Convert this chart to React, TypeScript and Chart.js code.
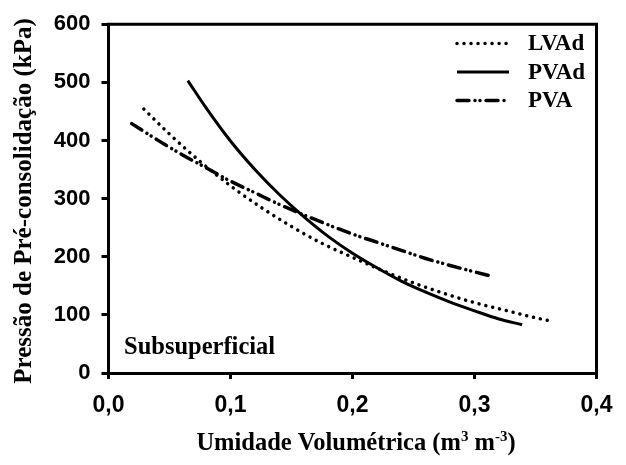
import React, { useEffect, useRef } from 'react';
import { Chart, registerables } from 'chart.js';

Chart.register(...registerables);

// ---- data ----
const seriesNames = ['LVAd', 'PVAd', 'PVA'];

const lvadX = [0.029, 0.05, 0.075, 0.1, 0.125, 0.15, 0.175, 0.2, 0.225, 0.25, 0.275, 0.3, 0.325, 0.35, 0.361];
const lvadY = [454, 411, 364, 322, 285, 252, 223, 199, 176, 155, 137, 121, 108, 95, 90];

const pvadX = [0.065, 0.08, 0.1, 0.12, 0.14, 0.16, 0.18, 0.2, 0.22, 0.24, 0.26, 0.28, 0.3, 0.32, 0.339];
const pvadY = [503, 456, 399, 350, 307, 269, 235, 206, 181, 158, 139, 122, 107, 93, 83];

const pvaX = [0.019, 0.04, 0.06, 0.08, 0.1, 0.12, 0.14, 0.16, 0.18, 0.2, 0.22, 0.24, 0.26, 0.28, 0.3, 0.315];
const pvaY = [429, 401, 376, 353, 330, 310, 290, 272, 255, 239, 225, 211, 197, 185, 174, 166];

const xTickValues = [0, 0.1, 0.2, 0.3, 0.4];
const yTickValues = [0, 100, 200, 300, 400, 500, 600];

const xTitleParts = [
  { t: 'Umidade Volumétrica (m', sup: false },
  { t: '3', sup: true },
  { t: ' m', sup: false },
  { t: '-3', sup: true },
  { t: ')', sup: false },
];
const yTitle = 'Pressão de Pré-consolidação (kPa)';
const panelLabel = 'Subsuperficial';

const SERIF = '"Liberation Serif", "Times New Roman", serif';
const SANS = '"Liberation Sans", Arial, sans-serif';

const toPoints = (xs: number[], ys: number[]) => xs.map((x, i) => ({ x, y: ys[i] }));

const decorPlugin = {
  id: 'decor',
  afterDraw(chart: any) {
    const { ctx, chartArea: a } = chart;
    ctx.save();
    // top and right frame
    ctx.strokeStyle = '#000';
    ctx.lineWidth = 3;
    ctx.setLineDash([]);
    ctx.lineCap = 'square';
    ctx.beginPath();
    ctx.moveTo(a.left, a.top);
    ctx.lineTo(a.right, a.top);
    ctx.lineTo(a.right, a.bottom);
    ctx.stroke();

    // legend
    chart.data.datasets.forEach((ds: any, i: number) => {
      const y = 43.5 + i * 28.5;
      ctx.setLineDash(ds.borderDash || []);
      ctx.lineCap = ds.borderCapStyle || 'butt';
      ctx.lineWidth = ds.borderWidth;
      ctx.strokeStyle = '#000';
      ctx.beginPath();
      ctx.moveTo(457, y);
      ctx.lineTo(509, y);
      ctx.stroke();
      ctx.setLineDash([]);
      ctx.font = `bold 23px ${SERIF}`;
      ctx.textBaseline = 'middle';
      ctx.textAlign = 'left';
      ctx.fillStyle = '#000';
      ctx.fillText(ds.label, 528, y + 1);
    });

    // panel label
    ctx.font = `bold 24.5px ${SERIF}`;
    ctx.textBaseline = 'alphabetic';
    ctx.textAlign = 'left';
    ctx.fillText(panelLabel, 124, 354);

    // y title
    ctx.save();
    ctx.translate(25, 201);
    ctx.rotate(-Math.PI / 2);
    ctx.font = `bold 25px ${SERIF}`;
    ctx.textAlign = 'center';
    ctx.textBaseline = 'middle';
    ctx.fillText(yTitle, 0, 0);
    ctx.restore();

    // x title with superscripts
    const big = `bold 24.5px ${SERIF}`;
    const small = `bold 15px ${SERIF}`;
    let total = 0;
    xTitleParts.forEach((p) => {
      ctx.font = p.sup ? small : big;
      total += ctx.measureText(p.t).width;
    });
    let x = 356 - total / 2;
    const base = 450;
    ctx.textAlign = 'left';
    ctx.textBaseline = 'alphabetic';
    xTitleParts.forEach((p) => {
      ctx.font = p.sup ? small : big;
      ctx.fillText(p.t, x, p.sup ? base - 9 : base);
      x += ctx.measureText(p.t).width;
    });
    ctx.restore();
  },
};

export default function App() {
  const ref = useRef<HTMLCanvasElement | null>(null);

  useEffect(() => {
    if (!ref.current) return;
    const common = {
      borderColor: '#000',
      backgroundColor: '#000',
      pointRadius: 0,
      fill: false,
      cubicInterpolationMode: 'monotone' as const,
    };
    const chart = new Chart(ref.current, {
      type: 'line',
      data: {
        datasets: [
          {
            ...common,
            label: seriesNames[0],
            data: toPoints(lvadX, lvadY),
            borderWidth: 3.5,
            borderDash: [0.01, 7],
            borderCapStyle: 'round',
          },
          {
            ...common,
            label: seriesNames[1],
            data: toPoints(pvadX, pvadY),
            borderWidth: 3,
            borderCapStyle: 'butt',
          },
          {
            ...common,
            label: seriesNames[2],
            data: toPoints(pvaX, pvaY),
            borderWidth: 3.5,
            borderDash: [12, 6, 0.01, 5, 0.01, 6],
            borderCapStyle: 'round',
          },
        ],
      },
      options: {
        animation: false,
        responsive: false,
        devicePixelRatio: 1,
        layout: { padding: { top: 16, right: 29.5, bottom: 0, left: 0 } },
        plugins: {
          legend: { display: false },
          tooltip: { enabled: false },
        },
        scales: {
          x: {
            type: 'linear',
            min: 0,
            max: 0.4,
            afterBuildTicks: (s: any) => {
              s.ticks = xTickValues.map((v) => ({ value: v }));
            },
            afterFit: (s: any) => {
              s.height = 92;
            },
            ticks: {
              color: '#000',
              font: { family: SANS, size: 23, weight: 'bold' },
              padding: 13,
              maxRotation: 0,
              callback: (v: any) => Number(v).toFixed(1).replace('.', ','),
            },
            grid: {
              drawOnChartArea: false,
              drawTicks: true,
              tickLength: 6,
              color: '#000',
              lineWidth: 3,
            },
            border: { display: true, color: '#000', width: 3 },
          },
          y: {
            type: 'linear',
            min: 0,
            max: 600,
            afterBuildTicks: (s: any) => {
              s.ticks = yTickValues.map((v) => ({ value: v }));
            },
            afterFit: (s: any) => {
              s.width = 108.5;
            },
            ticks: {
              color: '#000',
              font: { family: SANS, size: 22, weight: 'bold' },
              padding: 11,
              callback: (v: any) => String(v),
            },
            grid: {
              drawOnChartArea: false,
              drawTicks: true,
              tickLength: 7,
              color: '#000',
              lineWidth: 3,
            },
            border: { display: true, color: '#000', width: 3 },
          },
        },
      },
      plugins: [decorPlugin],
    } as any);
    return () => chart.destroy();
  }, []);

  return (
    <div style={{ position: 'absolute', left: 0, top: 0, width: 626, height: 465, background: '#fff' }}>
      <canvas ref={ref} width={626} height={465} style={{ width: 626, height: 465, display: 'block' }} />
    </div>
  );
}
